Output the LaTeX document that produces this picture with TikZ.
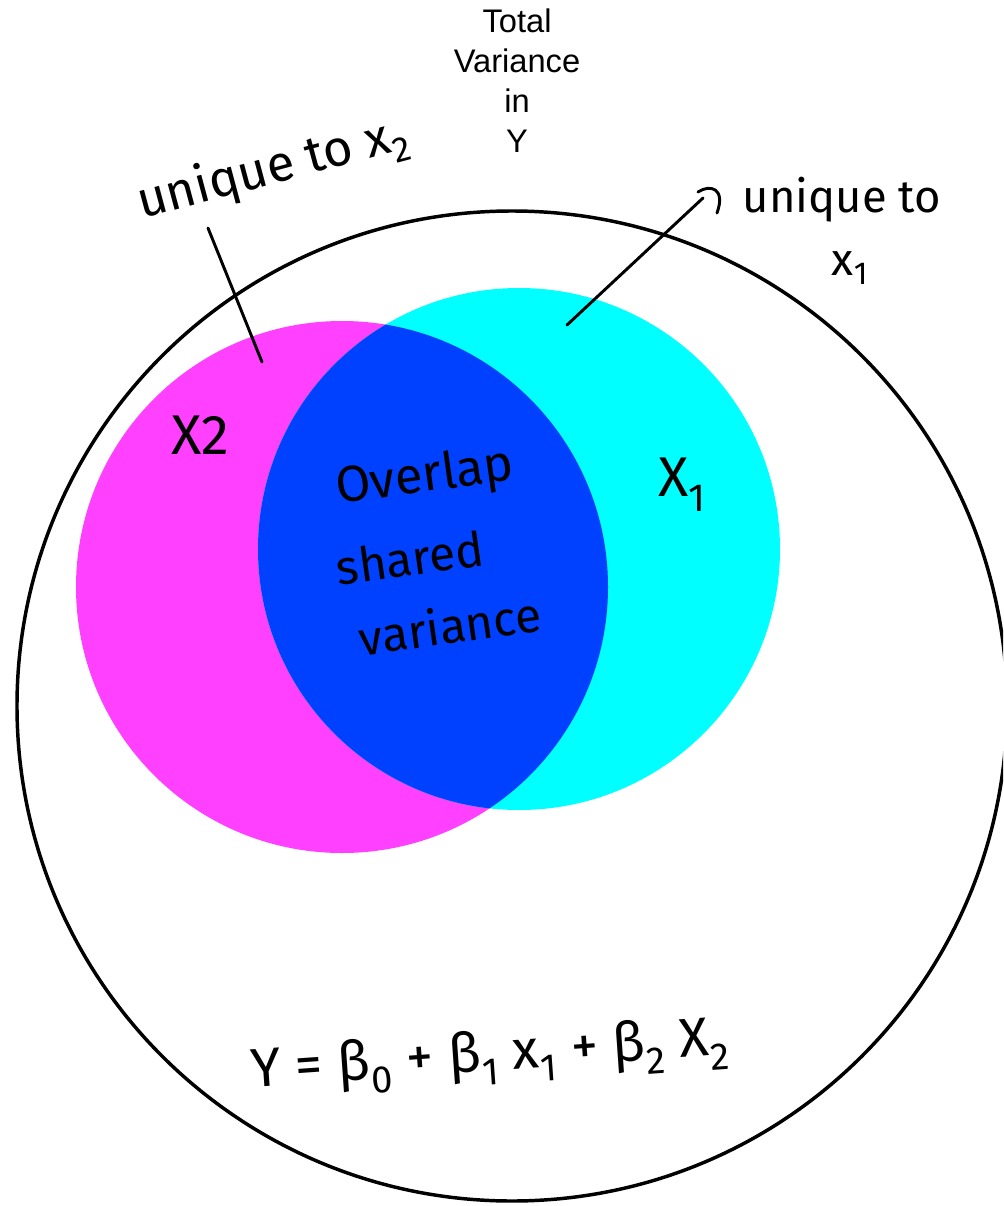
\documentclass[tikz,border=0pt]{standalone}
\usepackage{fontspec}
\setmainfont{Liberation Sans}
\newfontfamily\hand{Fira Sans}
\definecolor{mag}{RGB}{255,64,255}
\definecolor{cyn}{RGB}{0,255,255}
\definecolor{ovl}{RGB}{0,64,255}
\begin{document}
\begin{tikzpicture}[x=0.75pt,y=-0.75pt,
  hw/.style={font=\hand\fontsize{34}{40}\selectfont, inner sep=0pt},
  stroke/.style={line width=2.2pt, line cap=round, line join=round}]
\clip (0,0) rectangle (1003,1206);
\fill[white] (0,0) rectangle (1003,1206);
% circles
\fill[mag] (342,587) circle (266);
\fill[cyn] (519,549) circle (261);
\begin{scope}
  \clip (342,587) circle (266);
  \fill[ovl] (519,549) circle (261);
\end{scope}
\draw[line width=2.6pt] (512,706) circle (495);
% title
\node[font=\fontsize{24.5}{30}\selectfont, align=center, inner sep=0pt] (tv) at (517,81) {Total\\Variance\\in\\Y};
% labels
\node[hw, font=\hand\fontsize{38}{44}\selectfont, rotate=15] (u2) at (273,170) {unique to x\textsubscript{2}};
\node[hw] (u1) at (842,200) {unique to};
\node[hw] (u1x) at (850,268) {x\textsubscript{1}};
\node[hw, font=\hand\fontsize{42}{48}\selectfont] (lx2) at (200,435) {X2};
\node[hw, font=\hand\fontsize{42}{48}\selectfont] (lx1) at (682,485) {X\textsubscript{1}};
\node[hw, font=\hand\fontsize{38}{44}\selectfont, rotate=8] (ov1) at (425,478) {Overlap};
\node[hw, font=\hand\fontsize{36}{44}\selectfont, rotate=8] (ov2) at (410,558) {shared};
\node[hw, font=\hand\fontsize{36}{44}\selectfont, rotate=8] (ov3) at (450,625) {variance};
\node[hw, font=\hand\fontsize{41}{48}\selectfont, rotate=4] (eq) at (490,1058) {Y = β\textsubscript{0} + β\textsubscript{1} x\textsubscript{1} + β\textsubscript{2} X\textsubscript{2}};
% pointers
\coordinate (a2) at (208,228);
\coordinate (b2) at (262,362);
\draw[stroke] (a2) -- (b2);
\coordinate (a1) at (567,325);
\coordinate (b1) at (703,198);
\draw[stroke] (a1) -- (b1);
\coordinate (h1) at (698,192);
\coordinate (h2) at (717,213);
\draw[stroke] (h1) .. controls (710,184) and (726,188) .. (h2);
\end{tikzpicture}
\end{document}
